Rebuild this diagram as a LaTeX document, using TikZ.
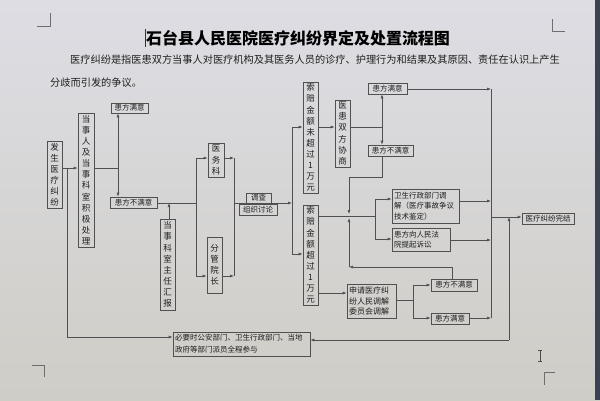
\documentclass[tikz,border=0pt]{standalone}
\usepackage{fontspec}
\newfontfamily\cjk{Noto Sans CJK SC}
\usetikzlibrary{arrows.meta}
\definecolor{bgtop}{RGB}{222,221,228}
\definecolor{bgbot}{RGB}{206,205,198}
\definecolor{ln}{RGB}{80,80,80}
\definecolor{tx}{RGB}{30,30,30}
\definecolor{cmk}{RGB}{110,110,110}
\definecolor{edge}{RGB}{60,66,80}
\tikzset{
 box/.style={draw=ln, line width=0.6pt, inner sep=0pt, text=tx, font=\cjk\fontsize{7.5}{9}\selectfont},
 vbox/.style={box, align=center, font=\cjk\fontsize{8.5}{11.1}\selectfont},
 mbox/.style={box, align=left, inner xsep=2pt, inner ysep=1pt, font=\cjk\fontsize{7.5}{10.5}\selectfont},
 link/.style={draw=ln, line width=0.6pt},
 arr/.style={link, -{Latex[length=4pt,width=3pt]}},
 cmark/.style={draw=cmk, line width=0.5pt},
}
\begin{document}
\begin{tikzpicture}[x=1pt,y=-1pt]
\shade[top color=bgtop, bottom color=bgbot] (0,0) rectangle (600,400);
\fill[edge] (595,0) rectangle (600,400);
\useasboundingbox (0,0) rectangle (600,400);
% page corner marks and cursors
\draw[cmark] (37,26) -- (50,26) -- (50,13);
\draw[cmark] (565,31) -- (552,31) -- (552,19);
\draw[cmark] (32,365) -- (44,365) -- (44,377);
\draw[cmark] (555,372) -- (544,372) -- (544,385);
\draw[draw=black!80, line width=0.7pt] (145,29) -- (145,47);
\draw[draw=black!70, line width=0.6pt] (540,350) -- (540,361) (538,350) -- (542,350) (538,361) -- (542,361);
% title and paragraph
\node[font=\cjk\bfseries\fontsize{16}{18}\selectfont, text=black, inner sep=0] (title) at (298,38) {石台县人民医院医疗纠纷界定及处置流程图};
\node[anchor=west, inner sep=0, font=\cjk\fontsize{10.2}{12}\selectfont, text=tx] (p1) at (70,60) {医疗纠纷是指医患双方当事人对医疗机构及其医务人员的诊疗、护理行为和结果及其原因、责任在认识上产生};
\node[anchor=west, inner sep=0, font=\cjk\fontsize{10.2}{12}\selectfont, text=tx] (p2) at (50,83) {分歧而引发的争议。};
% nodes
\node[vbox, minimum width=15, minimum height=67] (fs) at (54.5,174.5) {发\\生\\医\\疗\\纠\\纷};
\node[vbox, minimum width=16, minimum height=134] (dsr) at (86,180) {当\\事\\人\\及\\当\\事\\科\\室\\积\\极\\处\\理};
\node[box, minimum width=37, minimum height=10] (my1) at (129.5,108) {患方满意};
\node[box, minimum width=47, minimum height=11] (bmy1) at (133.5,202.5) {患方不满意};
\node[vbox, minimum width=15, minimum height=91] (zr) at (167.5,264.5) {当\\事\\科\\室\\主\\任\\汇\\报};
\node[vbox, minimum width=16, minimum height=34] (ywk) at (216,160) {医\\务\\科};
\node[vbox, minimum width=15, minimum height=56] (fg) at (214.5,265) {分\\管\\院\\长};
\node[box, minimum width=25, minimum height=10] (dc) at (258.5,198) {调查};
\node[box, minimum width=38, minimum height=11] (zz) at (258,209.5) {组织讨论};
\node[vbox, minimum width=15, minimum height=111] (wcg) at (310.5,137.5) {索\\赔\\金\\额\\未\\超\\过\\1\\万\\元};
\node[vbox, minimum width=15, minimum height=100] (cg) at (310.5,255) {索\\赔\\金\\额\\超\\过\\1\\万\\元};
\node[vbox, minimum width=15, minimum height=67] (xs) at (342.5,133.5) {医\\患\\双\\方\\协\\商};
\node[box, minimum width=39, minimum height=11] (my2) at (387.5,88.5) {患方满意};
\node[box, minimum width=45, minimum height=11] (bmy2) at (390.5,150.5) {患方不满意};
\node[mbox, text width=63, minimum height=34] (ws) at (425.5,206) {卫生行政部门调\\解（医疗事故争议\\技术鉴定）};
\node[mbox, text width=54, minimum height=23] (fy) at (421,239.5) {患方向人民法\\院提起诉讼};
\node[mbox, text width=45, minimum height=34, font=\cjk\fontsize{8}{10.5}\selectfont] (tj) at (371.5,301) {申请医疗纠\\纷人民调解\\委员会调解};
\node[box, minimum width=46, minimum height=12] (bmy3) at (454,285) {患方不满意};
\node[box, minimum width=38, minimum height=11] (my3) at (450,318.5) {患方满意};
\node[box, minimum width=52, minimum height=11] (wj) at (548,218.5) {医疗纠纷完结};
\node[mbox, text width=133, minimum height=24, font=\cjk\fontsize{7.5}{12}\selectfont] (bx) at (241.5,344) {必要时公安部门、卫生行政部门、当地\\政府等部门派员全程参与};
% junction coordinates
\coordinate (j1) at (67,168);
\coordinate (jb) at (67,337);
\coordinate (j3) at (118,168);
\coordinate (j4) at (196,203);
\coordinate (ya) at (196,158);
\coordinate (yb) at (196,276);
\coordinate (yc) at (234,158);
\coordinate (yd) at (234,276);
\coordinate (j5) at (234,203);
\coordinate (j6) at (292,203);
\coordinate (ta) at (292,127);
\coordinate (tb) at (292,254);
\coordinate (j8) at (382,127);
\coordinate (k1) at (349,177);
\coordinate (kt) at (349,214);
\coordinate (kb) at (349,218);
\coordinate (m) at (375,216);
\coordinate (ma) at (375,199);
\coordinate (mb) at (375,239);
\coordinate (r1) at (491,89);
\coordinate (r2) at (491,201);
\coordinate (r3) at (491,240);
\coordinate (r4) at (491,318);
\coordinate (rw) at (491,217);
\coordinate (s1) at (509,340);
\coordinate (n) at (413,300);
\coordinate (na) at (413,285);
\coordinate (nb) at (413,318);
\coordinate (q1) at (452,267);
\coordinate (q2) at (349,267);
\coordinate (p) at (320,293);
\coordinate (zt) at (169,203);
% connectors
\draw[arr] (fs.east|-j1) -- (dsr.west|-j1);
\draw[arr] (j1) -- (jb) -- (bx.west|-jb);
\draw[link] (dsr.east|-j3) -- (j3);
\draw[arr] (j3) -- (my1.south-|j3);
\draw[arr] (j3) -- (bmy1.north-|j3);
\draw[link] (bmy1.east|-j4) -- (j4);
\draw[arr] (zr.north-|zt) -- (zt);
\draw[arr] (j4) -- (ya) -- (ywk.west|-ya);
\draw[arr] (j4) -- (yb) -- (fg.west|-yb);
\draw[arr] (ywk.east|-yc) -- (yc);
\draw[arr] (fg.east|-yd) -- (yd);
\draw[link] (yc) -- (yd);
\draw[arr] (j5) -- (j6);
\draw[link] (ta) -- (tb);
\draw[arr] (ta) -- (wcg.west|-ta);
\draw[arr] (tb) -- (cg.west|-tb);
\draw[arr] (wcg.east|-ta) -- (xs.west|-ta);
\draw[link] (xs.east|-j8) -- (j8);
\draw[arr] (j8) -- (my2.south-|j8);
\draw[arr] (j8) -- (bmy2.north-|j8);
\draw[arr] (bmy2.south-|j8) |- (k1) -- (kt);
\draw[link] (cg.east|-m) -- (m);
\draw[link] (ma) -- (mb);
\draw[arr] (ma) -- (ws.west|-ma);
\draw[arr] (mb) -- (fy.west|-mb);
\draw[arr] (my2.east|-r1) -- (r1);
\draw[arr] (ws.east|-r2) -- (r2);
\draw[arr] (fy.east|-r3) -- (r3);
\draw[arr] (my3.east|-r4) -- (r4);
\draw[link] (r1) -- (r4);
\draw[arr] (rw) -- (wj.west|-rw);
\draw[arr] (s1) -- (s1|-rw);
\draw[arr] (s1) -- (bx.east|-s1);
\draw[arr] (cg.east|-p) -- (tj.west|-p);
\draw[link] (tj.east|-n) -- (n);
\draw[link] (na) -- (nb);
\draw[arr] (na) -- (bmy3.west|-na);
\draw[arr] (nb) -- (my3.west|-nb);
\draw[arr] (bmy3.north-|q1) -- (q1) -- (q2);
\draw[arr] (q2) -- (kb);
\end{tikzpicture}
\end{document}
